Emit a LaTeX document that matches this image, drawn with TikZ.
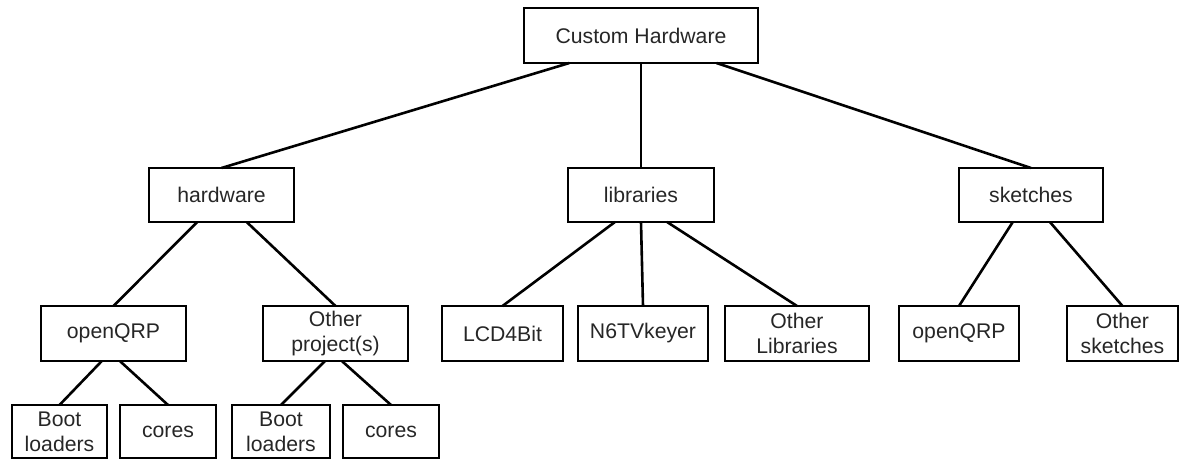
\documentclass[tikz,border=0pt]{standalone}
\usepackage{fontspec}
\setmainfont{Liberation Sans}
\usetikzlibrary{positioning}

\begin{document}
\begin{tikzpicture}[
    x=0.5pt, y=-0.5pt,
    box/.style={rectangle, draw, line width=1.3pt, inner sep=0pt, outer sep=0pt, minimum height=27pt, align=center, text=black!85, font=\fontsize{10.6}{12.5}\selectfont},
    link/.style={line width=1.3pt}
]
\useasboundingbox (0,0) rectangle (1180,461);

% Row 1: Root folder
\node[box, minimum width=117pt, minimum height=27.5pt] (root) at (641,35.5) {Custom Hardware};

% Row 2: Top-level folders
\node[box, minimum width=72.5pt] (hw) at (221.5,195) {hardware};
\node[box, minimum width=73pt, right=137pt of hw] (lib) {libraries};
\node[box, minimum width=72pt, right=122.5pt of lib] (sk) {sketches};

% Row 3: Sub-folders
\node[box, minimum width=72.5pt, minimum height=27.5pt] (hwqrp) at (113.5,333.5) {openQRP};
\node[box, minimum width=72.5pt, minimum height=27.5pt, right=38.5pt of hwqrp] (hwother) {Other\\project(s)};
\node[box, minimum width=60.5pt, minimum height=27.5pt, right=17pt of hwother] (lcd) {LCD4Bit};
\node[box, minimum width=65pt, minimum height=27.5pt, right=7.5pt of lcd] (keyer) {N6TVkeyer};
\node[box, minimum width=72pt, minimum height=27.5pt, right=8.5pt of keyer] (libother) {Other\\Libraries};
\node[box, minimum width=60pt, minimum height=27.5pt, right=15pt of libother] (skqrp) {openQRP};
\node[box, minimum width=55.5pt, minimum height=27.5pt, right=24pt of skqrp] (skother) {Other\\sketches};

% Row 4: Hardware contents
\node[box, minimum width=47.5pt, minimum height=26.5pt] (boot1) at (59.5,431.5) {Boot\\loaders};
\node[box, minimum width=48pt, minimum height=26.5pt, right=6.5pt of boot1] (cores1) {cores};
\node[box, minimum width=49pt, minimum height=26.5pt, right=8pt of cores1] (boot2) {Boot\\loaders};
\node[box, minimum width=48pt, minimum height=26.5pt, right=6.5pt of boot2] (cores2) {cores};

% Connectors
\draw[link] (root.201) -- (hw.north);
\draw[link] (root.south) -- (lib.north);
\draw[link] (root.340) -- (sk.north);
\draw[link] (hw.228) -- (hwqrp.north);
\draw[link] (hw.313) -- (hwother.north);
\draw[link] (lib.226) -- (lcd.north);
\draw[link] (lib.south) -- (keyer.north);
\draw[link] (lib.314) -- (libother.north);
\draw[link] (sk.236) -- (skqrp.north);
\draw[link] (sk.305) -- (skother.north);
\draw[link] (hwqrp.247) -- (boot1.north);
\draw[link] (hwqrp.283) -- (cores1.north);
\draw[link] (hwother.249) -- (boot2.north);
\draw[link] (hwother.283) -- (cores2.north);

\end{tikzpicture}
\end{document}
